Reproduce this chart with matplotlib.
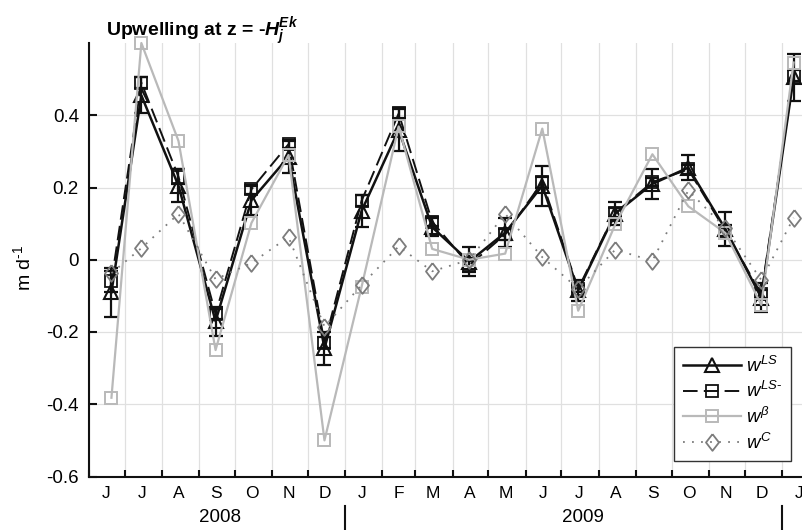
import matplotlib
matplotlib.use("Agg")
import matplotlib.pyplot as plt
import matplotlib.dates as mdates
from matplotlib.ticker import FixedLocator, FixedFormatter, NullFormatter
from matplotlib.transforms import blended_transform_factory
from datetime import datetime

plt.rcParams['font.family'] = ['Liberation Sans', 'DejaVu Sans']
plt.rcParams['mathtext.fontset'] = 'custom'
plt.rcParams['mathtext.rm'] = 'Liberation Sans'
plt.rcParams['mathtext.it'] = 'Liberation Sans:italic'
plt.rcParams['mathtext.bf'] = 'Liberation Sans:bold'
plt.rcParams['mathtext.bfit'] = 'Liberation Sans:italic:bold'
plt.rcParams['axes.unicode_minus'] = False

# ---- data: monthly upwelling estimates (m/day) ----
sample_dates = ["2008-06-20", "2008-07-15", "2008-08-15", "2008-09-15", "2008-10-15",
                "2008-11-15", "2008-12-15", "2009-01-15", "2009-02-15", "2009-03-15",
                "2009-04-15", "2009-05-15", "2009-06-15", "2009-07-15", "2009-08-15",
                "2009-09-15", "2009-10-15", "2009-11-15", "2009-12-15", "2010-01-11"]

w_ls = [-0.09, 0.455, 0.205, -0.17, 0.165, 0.285, -0.245, 0.135, 0.36, 0.09,
        -0.005, 0.075, 0.205, -0.085, 0.128, 0.21, 0.255, 0.085, -0.105, 0.505]
w_ls_err = [0.068, 0.05, 0.045, 0.04, 0.04, 0.045, 0.045, 0.045, 0.06, 0.025,
            0.04, 0.04, 0.055, 0.03, 0.032, 0.042, 0.034, 0.046, 0.04, 0.065]

w_lsm = [-0.06, 0.49, 0.23, -0.15, 0.195, 0.32, -0.23, 0.163, 0.405, 0.105,
         -0.015, 0.07, 0.215, -0.08, 0.13, 0.215, 0.25, 0.08, -0.095, 0.51]
w_lsm_err = [0.03, 0.015, 0.02, 0.015, 0.012, 0.012, 0.015, 0.015, 0.012, 0.012,
             0.02, 0.015, 0.015, 0.01, 0.012, 0.012, 0.012, 0.015, 0.01, 0.015]

w_beta = [-0.382, 0.60, 0.329, -0.25, 0.102, 0.29, -0.50, -0.075, 0.369, 0.030,
          0.0, 0.017, 0.363, -0.141, 0.098, 0.292, 0.148, 0.074, -0.125, 0.546]

w_c = [-0.037, 0.032, 0.127, -0.054, -0.009, 0.063, -0.185, -0.07, 0.037, -0.032,
       0.0, 0.127, 0.007, -0.08, 0.028, -0.003, 0.192, 0.088, -0.056, 0.116]

month_labels = ["J", "J", "A", "S", "O", "N", "D", "J", "F", "M",
                "A", "M", "J", "J", "A", "S", "O", "N", "D", "J"]
year_labels = ["2008", "2009"]
year_label_dates = ["2008-09-19", "2009-07-19"]
year_break_dates = ["2009-01-01", "2010-01-01"]

y_ticks = [-0.6, -0.4, -0.2, 0.0, 0.2, 0.4]
y_tick_labels = ["-0.6", "-0.4", "-0.2", "0", "0.2", "0.4"]

# ---- figure ----
W, H = 802, 530
fig = plt.figure(figsize=(W / 100, H / 100), dpi=100)
ax = fig.add_axes([88.7 / W, 1 - 476.5 / H, (W - 88.7) / W, (476.5 - 43) / H])

x = [datetime.strptime(d, "%Y-%m-%d") for d in sample_dates]

BLACK = "#111111"
LIGHT = "#b9b9b9"
MID = "#7c7c7c"

diamond = [(0, 1), (0.78, 0), (0, -1), (-0.78, 0), (0, 1)]

# error bars
ax.errorbar(x, w_ls, yerr=w_ls_err, fmt="none", ecolor=BLACK, elinewidth=1.6,
            capsize=4.7, capthick=1.6, zorder=3)
ax.errorbar(x, w_lsm, yerr=w_lsm_err, fmt="none", ecolor=BLACK, elinewidth=1.6,
            capsize=4.7, capthick=1.6, zorder=3)

# series
ax.plot(x, w_ls, color=BLACK, lw=1.8, marker="^", ms=10, mfc="none", mec=BLACK,
        mew=1.5, label=r"$w^{LS}$", zorder=4, clip_on=False)
ax.plot(x, w_lsm, color=BLACK, lw=1.4, ls=(0, (7.5, 3.2)), marker="s", ms=8.4,
        mfc="none", mec=BLACK, mew=1.3, label=r"$w^{LS\text{-}}$", zorder=4, clip_on=False)
ax.plot(x, w_beta, color=LIGHT, lw=1.6, marker="s", ms=8, mfc="none", mec=LIGHT,
        mew=1.4, label=r"$w^{\beta}$", zorder=5, clip_on=False)
ax.plot(x, w_c, color=MID, lw=1.3, ls=(0, (1, 4)), marker=diamond, ms=12,
        mfc="none", mec=MID, mew=1.3, label=r"$w^{C}$", zorder=5, clip_on=False)

# axes limits and ticks
ax.set_xlim(datetime(2008, 6, 1), datetime(2010, 1, 18))
ax.set_ylim(-0.6, 0.6)

ax.xaxis.set_major_locator(mdates.MonthLocator())
ax.xaxis.set_major_formatter(NullFormatter())
label_pos = mdates.date2num([datetime(2008 + (5 + i) // 12, (5 + i) % 12 + 1, 15, 12)
                             for i in range(len(month_labels))])
ax.xaxis.set_minor_locator(FixedLocator(label_pos))
ax.xaxis.set_minor_formatter(FixedFormatter(month_labels))

ax.set_yticks(y_ticks)
ax.set_yticklabels(y_tick_labels)

ax.tick_params(axis="both", which="major", direction="in", length=5.4, width=1.5,
               color=BLACK, labelsize=13.5, pad=7)
ax.tick_params(axis="x", which="minor", length=0, labelsize=12.5, pad=7)

for side in ("top", "right"):
    ax.spines[side].set_visible(False)
for side in ("left", "bottom"):
    ax.spines[side].set_linewidth(1.5)
    ax.spines[side].set_color(BLACK)

ax.grid(True, which="major", color="#e0e0e0", lw=0.9)
ax.set_axisbelow(True)

ax.set_ylabel(r"m d$^{\text{-}1}$", fontsize=14)
ax.yaxis.set_label_coords(-0.076, 0.48)

# year labels and separators below the month labels
trans = blended_transform_factory(ax.transData, fig.transFigure)
for lab, d in zip(year_labels, year_label_dates):
    fig.text(mdates.date2num(datetime.strptime(d, "%Y-%m-%d")), 1 - 517 / H, lab,
             transform=trans, ha="center", va="center", fontsize=13.5)
for d in year_break_dates:
    xd = mdates.date2num(datetime.strptime(d, "%Y-%m-%d"))
    fig.add_artist(plt.Line2D([xd, xd], [0, 1 - 506 / H], transform=trans,
                              color=BLACK, lw=1.5))

# title
fig.text(106 / W, 1 - 35.7 / H,
         r"Upwelling at z = -$\mathbfit{H}_{\mathbfit{j}}^{\mathbfit{Ek}}$",
         ha="left", va="baseline", fontsize=14, fontweight="bold")

leg = ax.legend(loc="upper right", bbox_to_anchor=(0.9846, 0.2987), borderaxespad=0,
                fontsize=13.5, handlelength=3.1, handletextpad=0.3, labelspacing=0.3,
                borderpad=0.45, fancybox=False, framealpha=1, edgecolor="#333333")
leg.get_frame().set_linewidth(1.0)

fig.savefig("out.png", dpi=100)
